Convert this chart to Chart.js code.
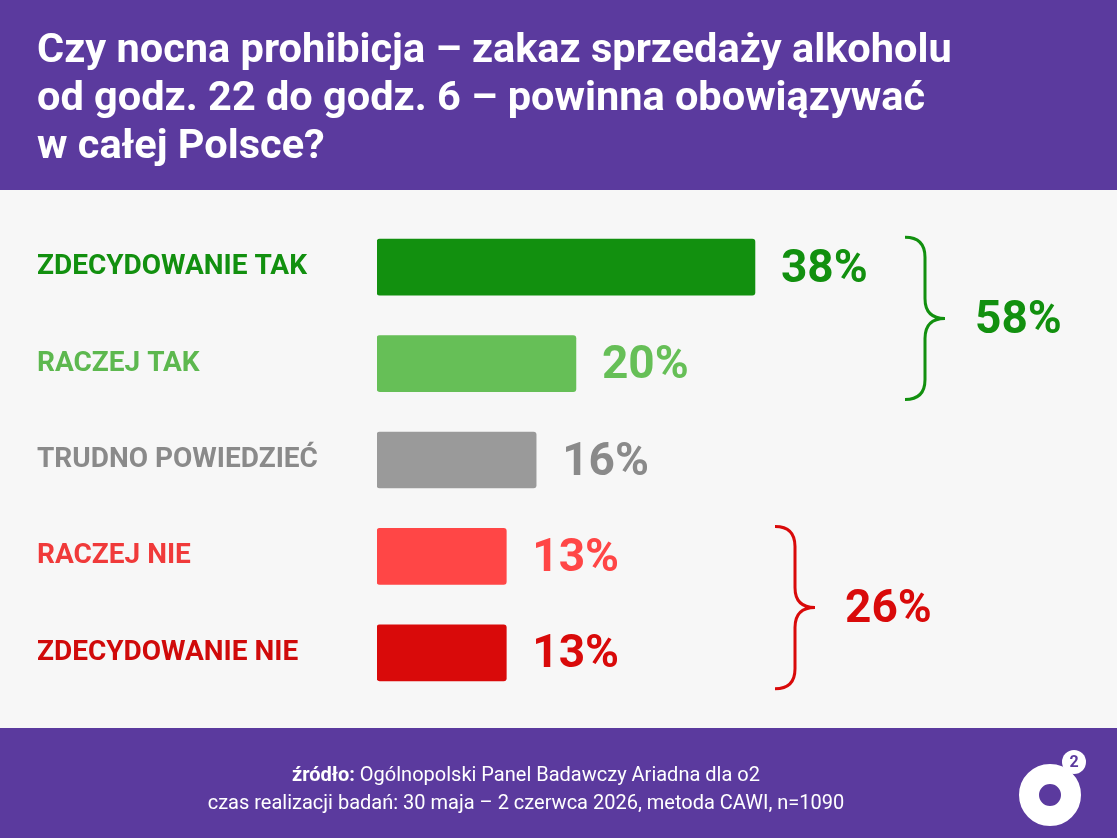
<!DOCTYPE html>
<html><head><meta charset="utf-8">
<script src="https://cdn.jsdelivr.net/npm/chart.js@4"></script>
<style>html,body{margin:0;padding:0;background:#f7f7f7}#w{width:1117px;height:838px;position:relative}</style>
</head><body><div id="w"><canvas id="c"></canvas></div>
<script>
const categories=["ZDECYDOWANIE TAK","RACZEJ TAK","TRUDNO POWIEDZIEĆ","RACZEJ NIE","ZDECYDOWANIE NIE"];
const values=[38,20,16,13,13];
const valueLabels=["38%","20%","16%","13%","13%"];
const colors=["#12900f","#66bf57","#9a9a9a","#ff4646","#d90a0a"];
const labelColors=["#12900f","#5db84f","#8a8a8a","#f03a3a","#d00a0a"];
const groups=[{from:0,to:1,label:"58%",color:"#12900f"},{from:3,to:4,label:"26%",color:"#d90a0a"}];
const braceX=[905,775];
const titleLines=["Czy nocna prohibicja – zakaz sprzedaży alkoholu","od godz. 22 do godz. 6 – powinna obowiązywać","w całej Polsce?"];
const purple="#5b3a9e";
const deco={id:'deco',
beforeDraw(ch){const c=ch.ctx;c.save();c.fillStyle="#f7f7f7";c.fillRect(0,0,1117,838);
c.fillStyle=purple;c.fillRect(0,0,1117,190);c.fillRect(0,728,1117,110);
c.fillStyle="#fff";c.font="bold 41.5px Roboto";c.textBaseline="alphabetic";
titleLines.forEach((t,i)=>c.fillText(t,37,62+i*48));
const l1b="źródło:",l1r=" Ogólnopolski Panel Badawczy Ariadna dla o2";
c.font="bold 20px Roboto";const w1=c.measureText(l1b).width;c.font="20px Roboto";const w2=c.measureText(l1r).width;
let sx=526-(w1+w2)/2;c.textAlign="left";c.font="bold 20px Roboto";c.fillText(l1b,sx,781);c.font="20px Roboto";c.fillText(l1r,sx+w1,781);
c.textAlign="center";c.fillText("czas realizacji badań: 30 maja – 2 czerwca 2026, metoda CAWI, n=1090",526,809);
c.beginPath();c.arc(1050,795,21,0,Math.PI*2);c.lineWidth=20;c.strokeStyle="#fff";c.stroke();
c.beginPath();c.arc(1074,762,12,0,Math.PI*2);c.fillStyle="#fff";c.fill();
c.fillStyle=purple;c.font="bold 16px Roboto";c.textBaseline="middle";c.fillText("2",1074,763);
c.restore();},
afterDatasetsDraw(ch){const c=ch.ctx,x=ch.scales.x,y=ch.scales.y;c.save();c.textBaseline="middle";c.textAlign="left";
c.font="bold 46px Roboto";
values.forEach((v,i)=>{c.fillStyle=colors[i]==="#9a9a9a"?"#8a8a8a":colors[i];c.fillText(valueLabels[i],x.getPixelForValue(v)+26,y.getPixelForValue(i)+3);});
groups.forEach((g,k)=>{const bx=braceX[k];const y0=y.getPixelForValue(g.from)-30,y1=y.getPixelForValue(g.to)+36,ym=(y0+y1)/2;
const r=20;c.strokeStyle=g.color;c.lineWidth=3;c.beginPath();
c.moveTo(bx,y0);c.quadraticCurveTo(bx+r,y0,bx+r,y0+r);c.lineTo(bx+r,ym-r);c.quadraticCurveTo(bx+r,ym,bx+2*r,ym);
c.quadraticCurveTo(bx+r,ym,bx+r,ym+r);c.lineTo(bx+r,y1-r);c.quadraticCurveTo(bx+r,y1,bx,y1);c.stroke();
c.fillStyle=g.color;c.fillText(g.label,bx+2*r+30,ym+3);});
c.restore();}};
new Chart(document.getElementById('c'),{type:'bar',
data:{labels:categories,datasets:[{data:values,backgroundColor:colors,borderRadius:3,borderSkipped:false,barThickness:56}]},
options:{indexAxis:'y',responsive:true,maintainAspectRatio:false,animation:false,
layout:{padding:{left:37,top:219,bottom:137,right:0}},
plugins:{legend:{display:false},tooltip:{enabled:false}},
scales:{x:{min:0,max:74.4,display:false},
y:{grid:{display:false},border:{display:false},afterFit(s){s.width=340;},
ticks:{crossAlign:'far',padding:0,color:labelColors,font:{family:'Roboto',weight:'bold',size:28},callback:function(v,i){return categories[i];}}}}},
plugins:[deco]});
</script></body></html>
